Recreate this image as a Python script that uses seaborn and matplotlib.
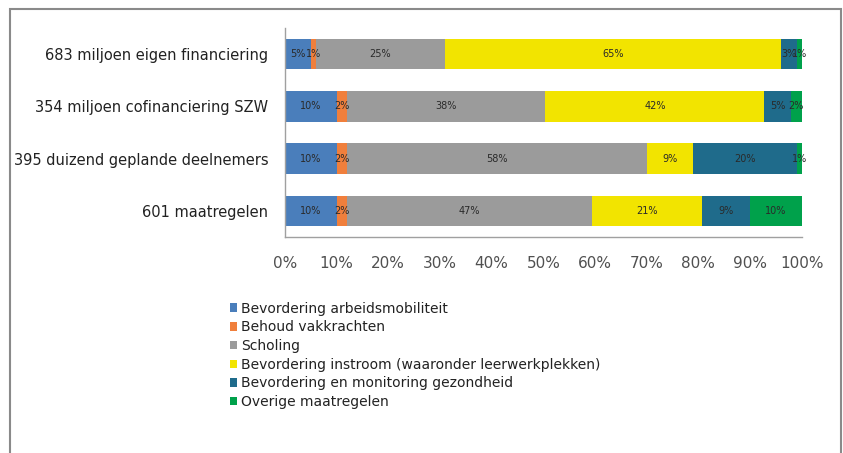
import matplotlib
matplotlib.use("Agg")
from matplotlib import pyplot as plt
from matplotlib.patches import Patch, Rectangle
import pandas as pd
import seaborn as sns
import numpy as np

# rows (top to bottom)
categories = [
    "683 miljoen eigen financiering",
    "354 miljoen cofinanciering SZW",
    "395 duizend geplande deelnemers",
    "601 maatregelen",
]
series = [
    "Bevordering arbeidsmobiliteit",
    "Behoud vakkrachten",
    "Scholing",
    "Bevordering instroom (waaronder leerwerkplekken)",
    "Bevordering en monitoring gezondheid",
    "Overige maatregelen",
]
# shares in % per series, one value per category
arbeidsmobiliteit = [5, 10, 10, 10]
vakkrachten = [1, 2, 2, 2]
scholing = [25, 38.4, 58, 47.4]
instroom = [65, 42.4, 9, 21.4]
gezondheid = [3, 5.1, 20, 9.2]
overige = [1, 2.1, 1, 10]

colors = ["#4a7ebb", "#f07f3c", "#9b9b9b", "#f2e400", "#1f6b8b", "#00a14b"]
tick_labels = ["0%", "10%", "20%", "30%", "40%", "50%", "60%", "70%", "80%", "90%", "100%"]

values = np.array([arbeidsmobiliteit, vakkrachten, scholing, instroom, gezondheid, overige])
cumulative = values.cumsum(axis=0)

sns.set_theme(style="white")
plt.rcParams['font.family'] = ['DejaVu Sans']

fig = plt.figure(figsize=(8.43, 4.53), dpi=100)
ax = fig.add_axes([0.338, 0.477, 0.613, 0.461])

# stacked bars: draw cumulative totals from last series to first
for i in range(len(series) - 1, -1, -1):
    df = pd.DataFrame({"category": categories, "total": cumulative[i]})
    sns.barplot(data=df, x="total", y="category", orient="h", color=colors[i],
                width=0.58, saturation=1, ax=ax, linewidth=0)

# segment labels
for i in range(len(series)):
    for j in range(len(categories)):
        v = values[i][j]
        ax.text(cumulative[i][j] - v / 2, j, f"{v:.0f}%", ha="center", va="center",
                fontsize=7, color="#2a2a2a")

ax.set_xlim(0, 100)
ax.set_ylim(3.5, -0.5)
ax.set_xticks(np.arange(0, 101, 10))
ax.set_xticklabels(tick_labels, fontsize=11, color="#505050")
ax.set_xlabel("")
ax.set_ylabel("")
ax.tick_params(axis="y", labelsize=10.5, labelcolor="#222222", pad=12, length=0)
ax.tick_params(axis="x", pad=14, length=0)
for s in ["top", "right"]:
    ax.spines[s].set_visible(False)
for s in ["left", "bottom"]:
    ax.spines[s].set_color("#a0a0a0")
    ax.spines[s].set_linewidth(1)

handles = [Patch(facecolor=c, edgecolor="none") for c in colors]
fig.legend(handles, series, loc="upper left", bbox_to_anchor=(224 / 843, 1 - 296 / 453),
           frameon=False, fontsize=10, handlelength=0.55, handleheight=0.55,
           handletextpad=0.3, labelspacing=0.34, labelcolor="#222222", borderaxespad=0)

# outer frame
fig.patches.append(Rectangle((10 / 843, -0.1), 831 / 843, 1.1 - 9 / 453, transform=fig.transFigure,
                             fill=False, edgecolor="#8a8a8a", linewidth=1.5))

plt.savefig("out.png", dpi=100)
